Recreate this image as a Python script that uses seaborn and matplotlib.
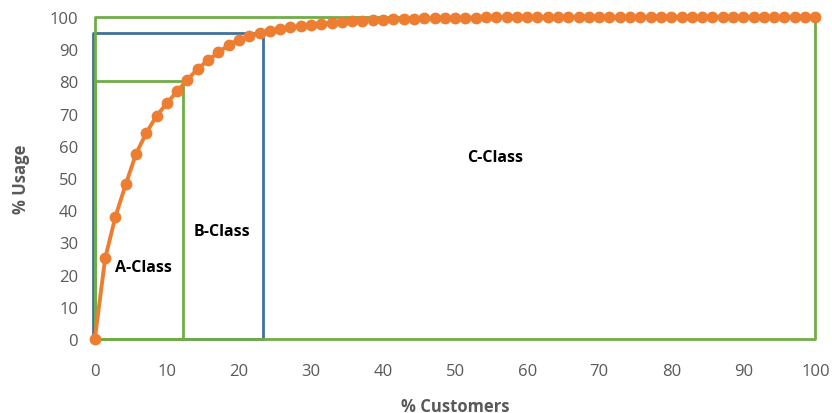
import matplotlib
matplotlib.use("Agg")
import matplotlib.pyplot as plt
import seaborn as sns
import pandas as pd

# cumulative usage curve, 71 points evenly spread over 0-100 % customers
usage = [0, 25, 38, 48, 57.5, 64, 69.3, 73.2, 77, 80.5,
         84, 86.5, 89, 91.3, 93, 94, 95, 95.7, 96.3, 96.8,
         97.2, 97.6, 97.9, 98.2, 98.5, 98.7, 98.9, 99.1, 99.2, 99.3,
         99.4, 99.5, 99.6, 99.6, 99.7, 99.7, 99.8, 99.8, 99.9, 99.9,
         99.9, 100, 100, 100, 100, 100, 100, 100, 100, 100,
         100, 100, 100, 100, 100, 100, 100, 100, 100, 100,
         100, 100, 100, 100, 100, 100, 100, 100, 100, 100,
         100]
customers = [i * 100 / (len(usage) - 1) for i in range(len(usage))]

# class boundaries (x cut, y cut)
a_cut = (12.3, 80)
b_cut = (23.3, 95)
c_cut = (100, 100)

class_labels = ["A-Class", "B-Class", "C-Class"]
label_pos = [(6.7, 22.4), (17.6, 33.5), (55.5, 56.5)]

x_ticks = list(range(0, 101, 10))
y_ticks = list(range(0, 101, 10))

df = pd.DataFrame({"customers": customers, "usage": usage})

sns.set_style("white")
plt.rcParams["font.family"] = ["Open Sans", "DejaVu Sans"]

fig = plt.figure(figsize=(8.32, 4.14), dpi=100)
ax = fig.add_axes([0.114, 0.179, 0.866, 0.7775])

grey = "#595959"
green = "#70AD47"
blue = "#41719C"
orange = "#ED7D31"

# class boxes
def box(x, y, color, dx=0.0):
    ax.plot([dx, dx, x, x, dx], [0, y, y, 0, 0], color=color, lw=2,
            zorder=2, clip_on=False)

box(*b_cut, blue, dx=-0.2)
box(*c_cut, green)
box(*a_cut, green)

sns.lineplot(data=df, x="customers", y="usage", ax=ax, color=orange,
             lw=2.8, marker="o", markersize=8.5, markeredgewidth=0,
             zorder=3, clip_on=False)

for text, (x, y) in zip(class_labels, label_pos):
    ax.text(x, y, text, fontsize=11.5, fontweight="bold", color="black",
            ha="center", va="center")

ax.set_xlim(0, 100)
ax.set_ylim(0, 100)
ax.set_xticks(x_ticks)
ax.set_yticks(y_ticks)
ax.tick_params(axis="both", colors="#bfbfbf", labelcolor=grey,
               labelsize=12, length=4, width=1, direction="out")
ax.tick_params(axis="x", pad=13)
ax.tick_params(axis="y", pad=8)
for s in ax.spines.values():
    s.set_visible(False)

ax.set_xlabel("% Customers", fontsize=12, fontweight="bold", color=grey,
              labelpad=13)
ax.set_ylabel("% Usage", fontsize=12, fontweight="bold", color=grey,
              labelpad=14)

fig.savefig("out.png", dpi=100)
